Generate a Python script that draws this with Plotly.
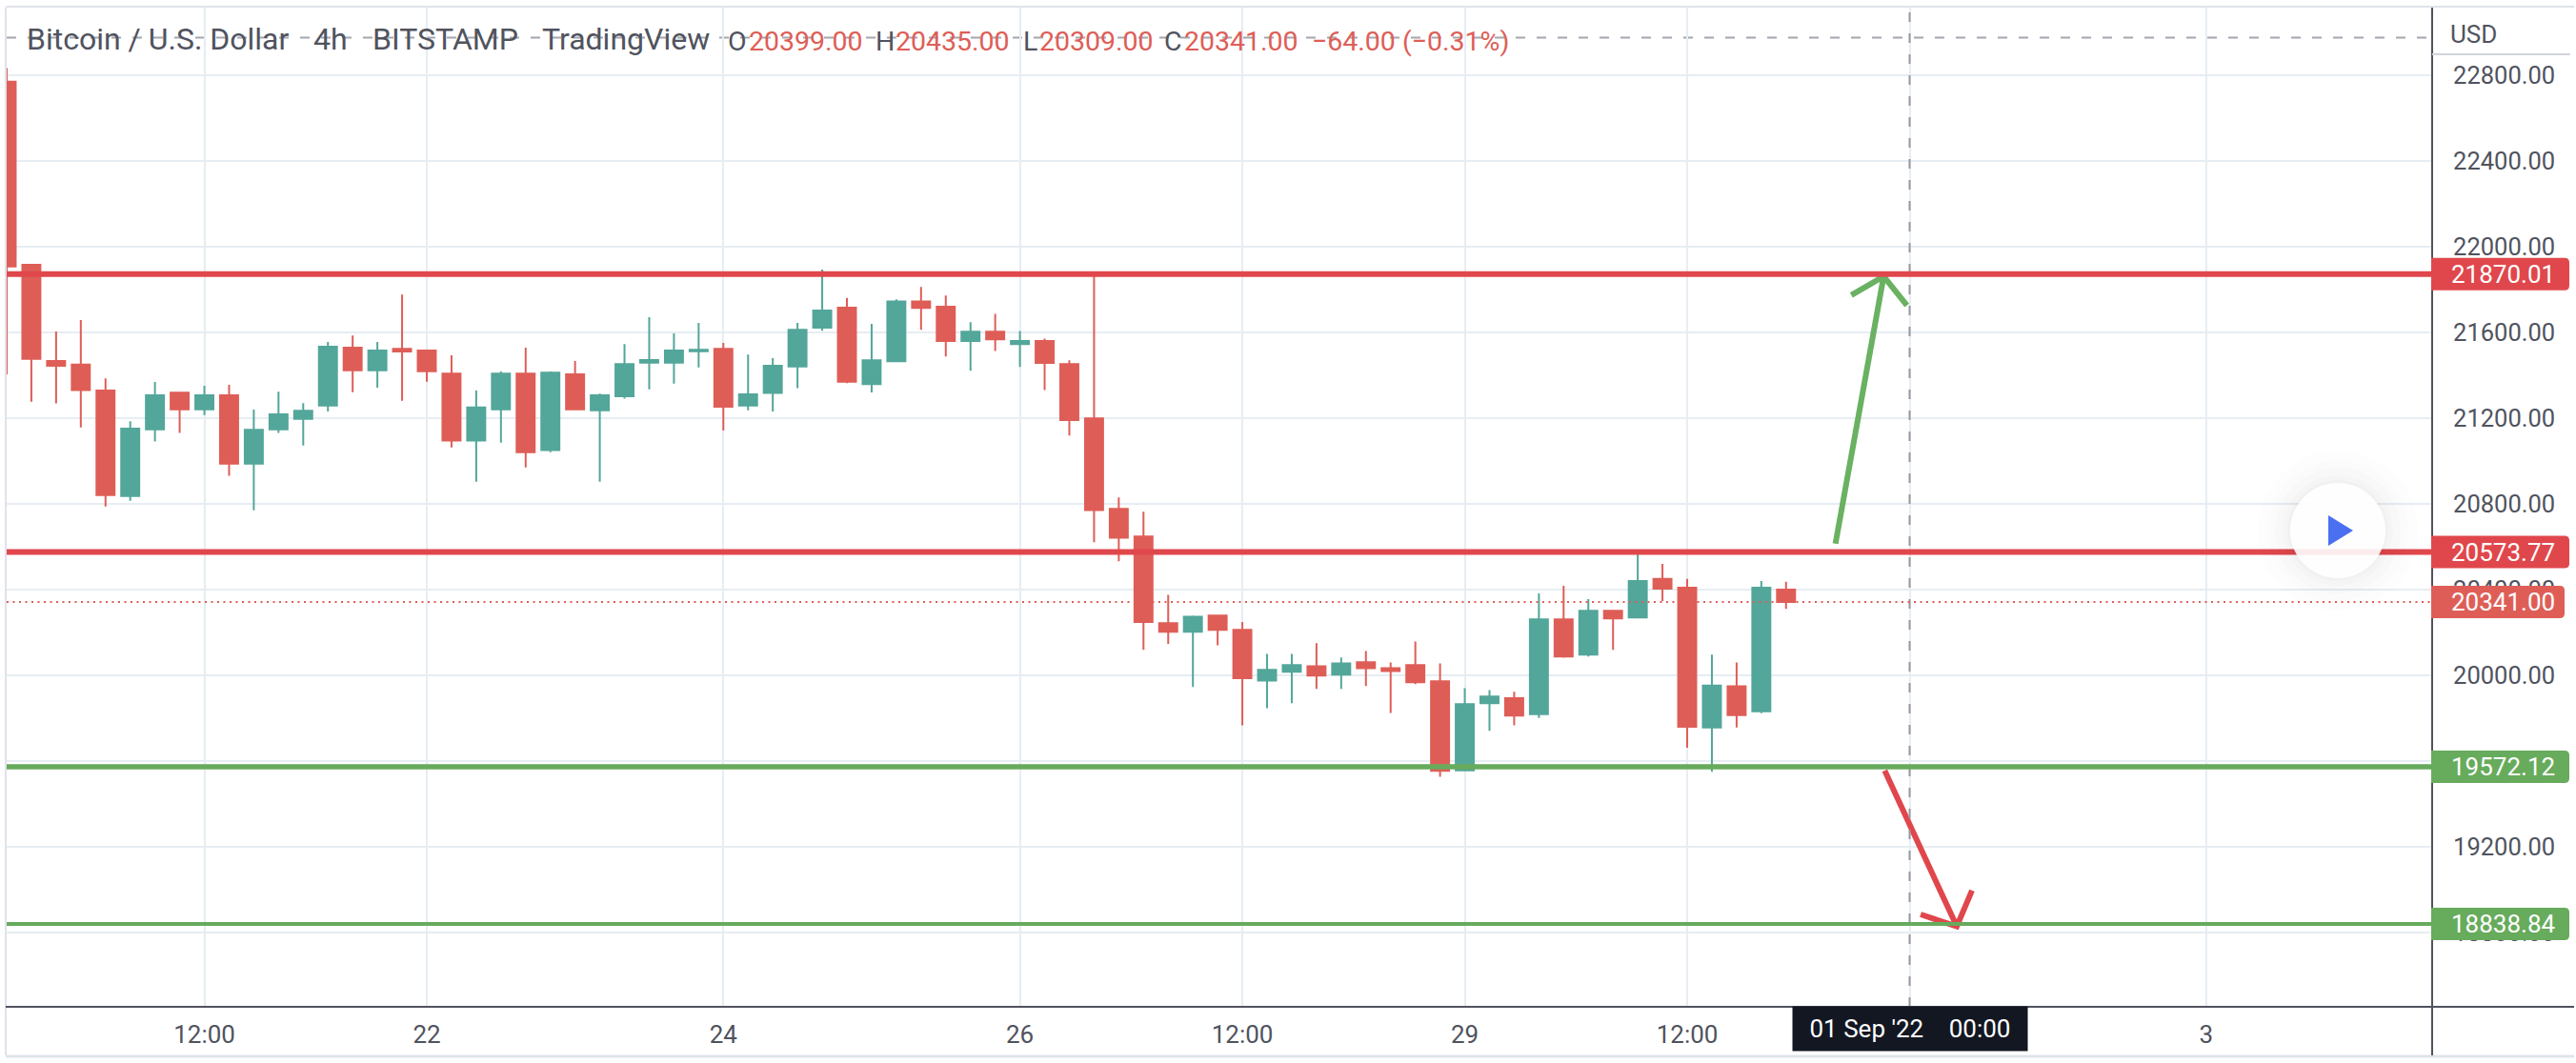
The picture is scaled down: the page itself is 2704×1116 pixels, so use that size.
import pandas as pd
import plotly.graph_objects as go

# ---- data -------------------------------------------------------------
times = pd.date_range("2022-08-19 04:00", periods=73, freq="4h")

opens = [22768, 21914, 21465, 21448, 21327, 20835, 21146, 21317, 21240, 21305, 20986, 21146, 21195, 21257, 21527, 21422, 21522, 21514, 21406, 21094, 21240, 21406, 21049, 21403, 21235, 21301, 21457, 21457, 21511, 21522, 21257, 21316, 21440, 21621, 21714,
         21357, 21464, 21743, 21718, 21558, 21602, 21544, 21558, 21451, 21197, 20775, 20646, 20242, 20202, 20277, 20211, 19974, 20015, 20041, 20002, 20060, 20032, 20046, 19971, 19555, 19869, 19892,
         19817, 20260, 20095, 20300, 20269, 20448, 20407, 19755, 19947, 19831, 20399]
highs = [22832, 21914, 21603, 21656, 21384, 21184, 21367, 21317, 21349, 21354, 21238, 21322, 21268, 21554, 21584, 21554, 21775, 21517, 21492, 21327, 21416, 21527, 21416, 21465, 21313, 21544, 21670, 21594, 21643, 21549, 21495, 21478, 21643, 21892, 21759,
         21638, 21753, 21811, 21770, 21646, 21685, 21605, 21570, 21468, 21875, 20828, 20762, 20374, 20277, 20277, 20247, 20099, 20099, 20148, 20082, 20112, 20059, 20156, 20054, 19939, 19930, 19922,
         20381, 20416, 20354, 20300, 20575, 20519, 20448, 20095, 20059, 20439, 20435]
lows = [21403, 21275, 21267, 21155, 20786, 20813, 21089, 21129, 21213, 20929, 20768, 21129, 21071, 21230, 21319, 21341, 21279, 21368, 21062, 20902, 21084, 20968, 21040, 21240, 20902, 21289, 21333, 21360, 21435, 21141, 21235, 21230, 21338, 21606, 21362,
        21318, 21464, 21611, 21486, 21420, 21512, 21437, 21330, 21117, 20619, 20531, 20117, 20145, 19944, 20139, 19765, 19845, 19869, 19935, 19935, 19949, 19823, 19957, 19525, 19555, 19740, 19765,
        19800, 20081, 20086, 20117, 20264, 20345, 19661, 19549, 19755, 19822, 20309]
closes = [21906, 21475, 21443, 21329, 20840, 21149, 21305, 21240, 21305, 20986, 21144, 21216, 21233, 21532, 21422, 21514, 21510, 21417, 21094, 21248, 21406, 21040, 21411, 21240, 21305, 21451, 21470, 21514, 21517, 21252, 21310, 21443, 21611, 21700, 21368,
          21468, 21743, 21713, 21558, 21602, 21566, 21558, 21456, 21189, 20770, 20641, 20247, 20202, 20272, 20211, 19985, 20024, 20046, 19997, 20054, 20032, 20019, 19966, 19553, 19864, 19900, 19811,
          20260, 20086, 20300, 20264, 20439, 20403, 19759, 19951, 19813, 20407, 20341]

level_prices = [21870.01, 20573.77, 19572.12, 18838.84]
level_labels = ["21870.01", "20573.77", "19572.12", "18838.84"]
last_price = 20341.00
last_label = "20341.00"
crosshair_price = 22974
crosshair_time = "2022-09-01 00:00"

price_ticks = [18800, 19200, 19600, 20000, 20400, 20800, 21200, 21600, 22000, 22400, 22800]
price_tick_labels = ["18800.00", "19200.00", "19600.00", "20000.00", "20400.00", "20800.00",
                     "21200.00", "21600.00", "22000.00", "22400.00", "22800.00"]
time_ticks = ["2022-08-20 12:00", "2022-08-22", "2022-08-24", "2022-08-26", "2022-08-27 12:00",
              "2022-08-29", "2022-08-30 12:00", "2022-09-01", "2022-09-03"]
time_tick_labels = ["12:00", "22", "24", "26", "12:00", "29", "12:00", "", "3"]

up_arrow_t = ["2022-08-31 12:00", "2022-08-31 19:48"]
up_arrow_p = [20613, 21860]
up_head_t = ["2022-08-31 14:34", "2022-08-31 19:48", "2022-08-31 23:34"]
up_head_p = [21772, 21860, 21724]
down_arrow_t = ["2022-08-31 19:58", "2022-09-01 07:38"]
down_arrow_p = [19554, 18827]
down_head_t = ["2022-09-01 01:47", "2022-09-01 07:38", "2022-09-01 10:06"]
down_head_p = [18883, 18827, 18995]

# ---- style ------------------------------------------------------------
W, H = 2704, 1116
L, R, T, B = 7, 2552, 8, 1057
TXT = "#50535e"
RED_C, TEAL = "#de5e57", "#53a69a"
RED_L, GRN_L = "#e0474c", "#67ab5c"
GRID = "#e6edf3"
FONT = "Roboto"
# axis ranges (155.65 px per day, Aug 22 at x=448; 90 px per 400 USD)
t0 = pd.Timestamp("2022-08-22")
x_lo = t0 + pd.Timedelta(days=(L - 448) / 155.65)
x_hi = t0 + pd.Timedelta(days=(R - 448) / 155.65)
y_hi = 22800 + (78.6 - T) * 4.444
y_lo = 22800 - (B - 78.6) * 4.444

px = lambda x: (x - L) / (R - L)
py = lambda y: (B - y) / (B - T)
price_py = lambda p: (p - y_lo) / (y_hi - y_lo)

fig = go.Figure()
fig.add_trace(go.Candlestick(
    x=times, open=opens, high=highs, low=lows, close=closes,
    increasing=dict(line=dict(color=TEAL, width=2), fillcolor=TEAL),
    decreasing=dict(line=dict(color=RED_C, width=2), fillcolor=RED_C),
    whiskerwidth=0, showlegend=False, hoverinfo="skip"))

for tt, pp, col in [(up_arrow_t, up_arrow_p, "#6ab161"), (up_head_t, up_head_p, "#6ab161"),
                    (down_arrow_t, down_arrow_p, RED_L), (down_head_t, down_head_p, RED_L)]:
    fig.add_trace(go.Scatter(x=tt, y=pp, mode="lines", showlegend=False, hoverinfo="skip",
                             line=dict(color=col, width=6)))

shapes = []
# page frame
shapes.append(dict(type="line", xref="paper", yref="paper", x0=px(6), x1=px(6), y0=py(8), y1=py(1108),
                   line=dict(color="#e0e3eb", width=2), layer="below"))
shapes.append(dict(type="line", xref="paper", yref="paper", x0=px(6), x1=px(2702), y0=py(7), y1=py(7),
                   line=dict(color="#e0e3eb", width=2), layer="below"))
shapes.append(dict(type="line", xref="paper", yref="paper", x0=px(6), x1=px(2702), y0=py(1109), y1=py(1109),
                   line=dict(color="#e0e3eb", width=3), layer="below"))
# crosshair
shapes.append(dict(type="line", xref="x", yref="paper", x0=crosshair_time, x1=crosshair_time, y0=0, y1=1,
                   line=dict(color="#9598a1", width=2, dash="10px,12px"), layer="above"))
shapes.append(dict(type="line", xref="paper", yref="y", x0=0, x1=1, y0=crosshair_price, y1=crosshair_price,
                   line=dict(color="#a3a6af", width=2, dash="10px,12px"), layer="below"))
# last price
shapes.append(dict(type="line", xref="paper", yref="y", x0=0, x1=1, y0=last_price, y1=last_price,
                   line=dict(color=RED_C, width=2, dash="2px,4.5px"), layer="above"))
# levels
for p, c, w in zip(level_prices, [RED_L, RED_L, GRN_L, GRN_L], [6, 6, 5.5, 4]):
    shapes.append(dict(type="line", xref="paper", yref="y", x0=0, x1=1, y0=p, y1=p,
                       line=dict(color=c, width=w), layer="above"))
# axis lines
shapes.append(dict(type="line", xref="paper", yref="paper", x0=px(6), x1=px(2702), y0=0, y1=0,
                   line=dict(color=TXT, width=2), layer="above"))
shapes.append(dict(type="line", xref="paper", yref="paper", x0=px(2553), x1=px(2553), y0=py(1108), y1=py(8),
                   line=dict(color=TXT, width=2), layer="above"))
# USD header underline
shapes.append(dict(type="line", xref="paper", yref="paper", x0=px(2553), x1=px(2698), y0=py(57), y1=py(57),
                   line=dict(color="#d1d4dc", width=2), layer="above"))
# play button: soft shadow, white disc, blue triangle
cx, cy = 2454, 557
for r, op in [(84, .006), (74, .008), (66, .01), (58, .012), (53, .015)]:
    shapes.append(dict(type="circle", xref="paper", yref="paper", x0=px(cx - r), x1=px(cx + r),
                       y0=py(cy + r), y1=py(cy - r), fillcolor="#000000", opacity=op,
                       line=dict(width=0), layer="above"))
shapes.append(dict(type="circle", xref="paper", yref="paper", x0=px(cx - 50), x1=px(cx + 50),
                   y0=py(cy + 50), y1=py(cy - 50), fillcolor="#ffffff", opacity=0.9,
                   line=dict(width=0), layer="above"))
shapes.append(dict(type="path", xref="paper", yref="paper",
                   path=f"M {px(2444)} {py(541)} L {px(2470)} {py(557)} L {px(2444)} {py(573)} Z",
                   fillcolor="#4a6ff0", line=dict(width=0), layer="above"))

ann = []
def text(x, y, s, color=TXT, size=28):
    ann.append(dict(xref="paper", yref="paper", x=px(x), y=py(y), text=s, showarrow=False,
                    xanchor="left", yanchor="middle", font=dict(family=FONT, size=size, color=color),
                    borderpad=0))

for x, s in [(27, "Bitcoin / U.S. Dollar"), (328, "4h"), (390, "BITSTAMP"), (568, "TradingView")]:
    text(x, 41, s, size=32)
for x, s, c in [(763, "O", TXT), (785, "20399.00", RED_C), (918, "H", TXT), (939, "20435.00", RED_C),
                (1073, "L", TXT), (1090, "20309.00", RED_C), (1221, "C", TXT), (1242, "20341.00", RED_C),
                (1376, "\u221264.00 (\u22120.31%)", RED_C)]:
    text(x, 44, s, c, 28.5)
text(2571, 36, "USD", size=26)

def badge(price, label, color, right=2697):
    c = price_py(price)
    h = 17 / (B - T)
    r = px(right)
    rx, ry = 5 / (R - L), 5 / (B - T)
    l = px(2552)
    shapes.append(dict(type="path", xref="paper", yref="paper", layer="above", fillcolor=color, line=dict(width=0),
                       path=f"M {l} {c - h} L {l} {c + h} L {r - rx} {c + h} Q {r} {c + h} {r} {c + h - ry} "
                            f"L {r} {c - h + ry} Q {r} {c - h} {r - rx} {c - h} Z"))
    ann.append(dict(xref="paper", yref="paper", x=px(2628), y=c, text=label, showarrow=False, xanchor="center",
                    yanchor="middle", font=dict(family=FONT, size=26, color="#ffffff")))

for p, l, c in zip(level_prices, level_labels, [RED_L, RED_L, GRN_L, GRN_L]):
    badge(p, l, c)
badge(last_price, last_label, RED_C, 2692)

ann.append(dict(xref="x", yref="paper", x=crosshair_time, y=py(1080), text="01 Sep '22\u2002\u200200:00",
                showarrow=False, xanchor="center", yanchor="middle", width=246, height=46, align="center",
                bgcolor="#131722", borderpad=0, font=dict(family=FONT, size=26, color="#ffffff")))

fig.update_layout(
    width=W, height=H, autosize=False,
    margin=dict(l=L, r=W - R, t=T, b=H - B),
    paper_bgcolor="#ffffff", plot_bgcolor="#ffffff",
    boxgap=0.27, boxgroupgap=0, showlegend=False,
    shapes=shapes, annotations=ann,
    xaxis=dict(type="date", range=[x_lo, x_hi], tickmode="array", tickvals=time_ticks, ticktext=time_tick_labels,
               showgrid=True, gridcolor=GRID, gridwidth=2, rangeslider=dict(visible=False),
               ticks="outside", ticklen=6, tickcolor="rgba(0,0,0,0)", zeroline=False,
               tickfont=dict(family=FONT, size=26, color=TXT)),
    yaxis=dict(side="right", range=[y_lo, y_hi], tickmode="array", tickvals=price_ticks, ticktext=price_tick_labels,
               showgrid=True, gridcolor=GRID, gridwidth=2, zeroline=False,
               ticks="outside", ticklen=17, tickcolor="rgba(0,0,0,0)",
               tickfont=dict(family=FONT, size=25.5, color=TXT)),
)
fig.write_html("out.html", post_script="document.body.style.margin='0';",
               config=dict(displayModeBar=False))
